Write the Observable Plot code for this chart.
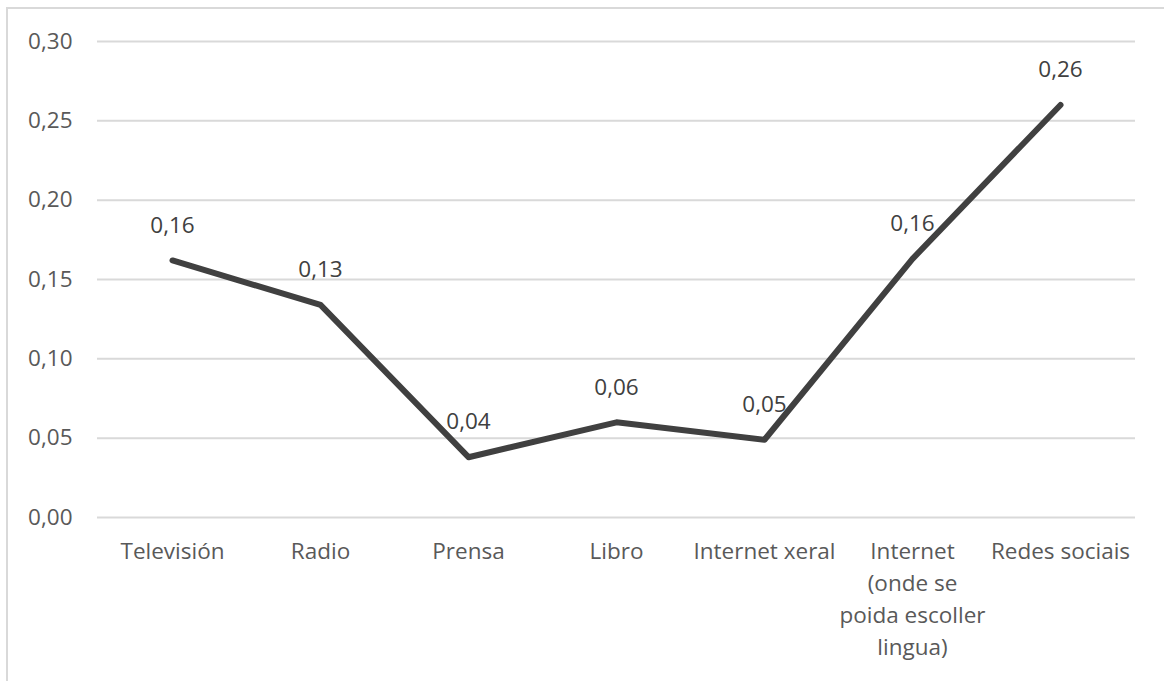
<!DOCTYPE html>
<html>
<head>
<meta charset="utf-8">
<script src="https://cdn.jsdelivr.net/npm/d3@7"></script>
<script src="https://cdn.jsdelivr.net/npm/@observablehq/plot@0.6"></script>
<style>
  html, body { margin: 0; padding: 0; background: #fff; overflow: hidden; }
  #wrap { position: relative; width: 1164px; height: 681px; }
  #box { position: absolute; left: 6px; top: 7px; width: 1200px; height: 720px;
         border: 2px solid #d9d9d9; box-sizing: border-box; pointer-events: none; }
</style>
</head>
<body>
<div id="wrap"><div id="box"></div></div>
<script>
// Media categories and their values
const categories = ["Televisión", "Radio", "Prensa", "Libro", "Internet xeral",
  "Internet (onde se poida escoller lingua)", "Redes sociais"];
const values = [0.162, 0.134, 0.038, 0.060, 0.049, 0.163, 0.260];
const tickLabels = ["Televisión", "Radio", "Prensa", "Libro", "Internet xeral",
  "Internet\n(onde se\npoida escoller\nlingua)", "Redes sociais"];
const yTicks = [0, 0.05, 0.10, 0.15, 0.20, 0.25, 0.30];

const data = categories.map((c, i) => ({category: c, value: values[i]}));
const fmt = v => d3.format(".2f")(v).replace(".", ",");
const labelOf = new Map(categories.map((c, i) => [c, tickLabels[i]]));

const font = "'Open Sans', sans-serif";

const chart = Plot.plot({
  width: 1164,
  height: 681,
  marginLeft: 97,
  marginRight: 29,
  marginTop: 41,
  marginBottom: 164,
  style: {fontFamily: font, background: "transparent"},
  x: {type: "point", domain: categories, padding: 0.5},
  y: {domain: [0, 0.30]},
  marks: [
    Plot.gridY(yTicks, {stroke: "#d9d9d9", strokeOpacity: 1, strokeWidth: 2}),
    Plot.axisY(yTicks, {
      tickSize: 0, tickPadding: 25, tickFormat: fmt,
      fontSize: 22.5, fill: "#595959", label: null
    }),
    Plot.axisX({
      tickSize: 0, tickPadding: 19, tickFormat: d => labelOf.get(d),
      fontSize: 22.5, fill: "#595959", lineHeight: 1.42, label: null
    }),
    Plot.line(data, {x: "category", y: "value", stroke: "#404040",
      strokeWidth: 6, strokeLinejoin: "round", strokeLinecap: "round"}),
    Plot.text(data, {x: "category", y: "value", text: d => fmt(d.value),
      dy: -35, fontSize: 22.5, fill: "#404040"})
  ]
});
document.getElementById("wrap").prepend(chart);
</script>
</body>
</html>
